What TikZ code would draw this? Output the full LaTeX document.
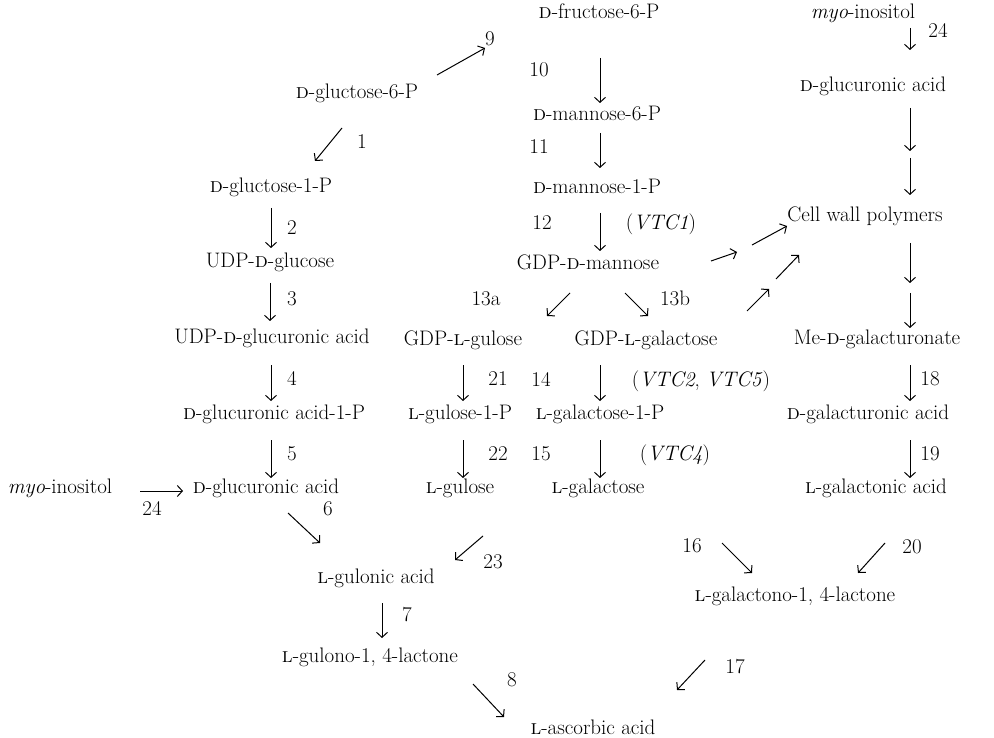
\documentclass[tikz,border=0pt]{standalone}
\usepackage{fontspec}
\usetikzlibrary{arrows.meta}
\newcommand{\Dc}{\textsc{d}}
\newcommand{\Lc}{\textsc{l}}
\newcommand{\arw}[3]{\coordinate (#1s) at (#2); \coordinate (#1e) at (#3); \draw[arr] (#1s) -- (#1e);}
\begin{document}
\begin{tikzpicture}[x=1pt,y=-1pt,
  every node/.style={font=\fontsize{21}{25}\selectfont, inner sep=0pt, anchor=mid, yshift=-3pt},
  arr/.style={line width=1pt, -{Straight Barb[length=5pt,width=11pt,line width=1pt]}}]
\useasboundingbox (0,0) rectangle (994,738);
% compounds
\node (fru) at (599,13) {\Dc-fructose-6-P};
\node (g6p) at (357,93) {\Dc-gluctose-6-P};
\node (man6) at (597,115) {\Dc-mannose-6-P};
\node (g1p) at (271,187) {\Dc-gluctose-1-P};
\node (man1) at (597,188) {\Dc-mannose-1-P};
\node (udpg) at (270,262) {UDP-\Dc-glucose};
\node (gdpm) at (588,264) {GDP-\Dc-mannose};
\node (cwp) at (865,216) {Cell wall polymers};
\node (myo1) at (863,13) {\textit{myo}-inositol};
\node (gluA1) at (873,86) {\Dc-glucuronic acid};
\node (udpga) at (272,338) {UDP-\Dc-glucuronic acid};
\node (gdpgul) at (463,340) {GDP-\Lc-gulose};
\node (gdpgal) at (646,340) {GDP-\Lc-galactose};
\node (megal) at (877,339) {Me-\Dc-galacturonate};
\node (ga1p) at (274,414) {\Dc-glucuronic acid-1-P};
\node (gul1p) at (460,414) {\Lc-gulose-1-P};
\node (gal1p) at (600,414) {\Lc-galactose-1-P};
\node (dgalA) at (868,414) {\Dc-galacturonic acid};
\node (myo2) at (60,488) {\textit{myo}-inositol};
\node (gluA2) at (266,488) {\Dc-glucuronic acid};
\node (gul) at (460,488) {\Lc-gulose};
\node (gal) at (598,488) {\Lc-galactose};
\node (lgalA) at (876,488) {\Lc-galactonic acid};
\node (gulA) at (376,578) {\Lc-gulonic acid};
\node (galL) at (795,596) {\Lc-galactono-1, 4-lactone};
\node (gulL) at (370,657) {\Lc-gulono-1, 4-lactone};
\node (asc) at (593,729) {\Lc-ascorbic acid};
% labels
\node (l9) at (490,40) {9};
\node (l10) at (539,71) {10};
\node (l1) at (362,143) {1};
\node (l11) at (539,148) {11};
\node (l2) at (292,229) {2};
\node (l12) at (542,224) {12};
\node (v1) at (661,224) {(\textit{VTC1})};
\node (l24t) at (938,32) {24};
\node (l13a) at (486,300) {13a};
\node (l13b) at (675,300) {13b};
\node (l3) at (292,300) {3};
\node (l21) at (498,380) {21};
\node (l14) at (541,381) {14};
\node (v25) at (701,381) {(\textit{VTC2}, \textit{VTC5})};
\node (l18) at (930,380) {18};
\node (l4) at (292,380) {4};
\node (l5) at (292,455) {5};
\node (l22) at (498,455) {22};
\node (l15) at (541,455) {15};
\node (v4) at (675,455) {(\textit{VTC4})};
\node (l19) at (930,455) {19};
\node (l24l) at (152,510) {24};
\node (l6) at (328,510) {6};
\node (l23) at (493,563) {23};
\node (l16) at (692,547) {16};
\node (l20) at (912,548) {20};
\node (l7) at (407,616) {7};
\node (l17) at (735,668) {17};
\node (l8) at (512,681) {8};
% arrows
\arw{a9}{437,72}{485,45}
\arw{a10}{600,55}{600,100}
\arw{a1}{342,125}{315,158}
\arw{a11}{600,130}{600,165}
\arw{a2}{271,205}{271,245}
\arw{a12}{600,210}{600,248}
\arw{a3}{270,280}{270,318}
\arw{c1}{711,258}{737,249}
\arw{c2}{752,242}{787,223}
\arw{c3}{747,308}{769,286}
\arw{c4}{776,276}{799,252}
\arw{a24t}{910,25}{910,47}
\arw{g1}{910,105}{910,148}
\arw{g2}{910,155}{910,192}
\arw{c5}{910,240}{910,280}
\arw{c6}{910,290}{910,325}
\arw{a13a}{570,290}{547,313}
\arw{a13b}{625,290}{648,313}
\arw{a21}{463,362}{463,398}
\arw{a14}{600,362}{600,398}
\arw{a18}{910,362}{910,398}
\arw{a4}{271,362}{271,398}
\arw{a5}{271,437}{271,475}
\arw{a22}{463,437}{463,475}
\arw{a15}{600,437}{600,475}
\arw{a19}{910,437}{910,475}
\arw{a24l}{140,488}{183,488}
\arw{a6}{288,510}{320,540}
\arw{a23}{483,533}{455,557}
\arw{a16}{722,540}{752,570}
\arw{a20}{885,540}{858,570}
\arw{a7}{382,600}{382,635}
\arw{a17}{705,657}{677,687}
\arw{a8}{473,681}{504,714}
\end{tikzpicture}
\end{document}
